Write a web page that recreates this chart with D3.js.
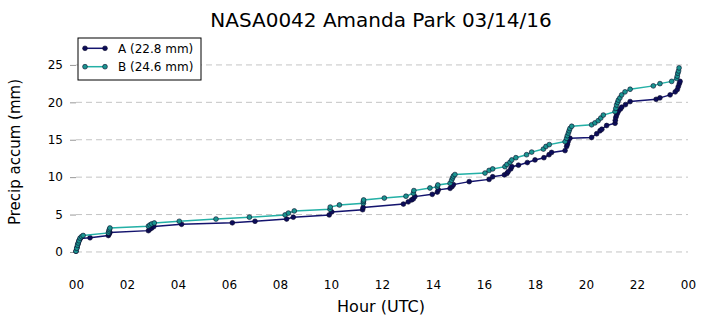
<!DOCTYPE html>
<html><head><meta charset="utf-8">
<script src="https://cdn.jsdelivr.net/npm/d3@7"></script>
<style>body{margin:0;background:#fff;} text{font-family:"DejaVu Sans",sans-serif;}</style>
</head><body><svg id="chart" width="706" height="326"></svg>
<script>
const title = "NASA0042 Amanda Park 03/14/16";
const seriesNames = ["A (22.8 mm)", "B (24.6 mm)"];
const hoursA = [0.0,0.04,0.08,0.12,0.17,0.55,1.27,1.3,1.33,2.84,2.9,2.97,3.05,4.14,6.13,7.02,8.26,8.52,9.93,10.03,11.24,11.26,12.84,13.03,13.16,13.23,13.29,13.97,14.17,14.21,14.67,14.75,14.8,15.42,16.2,16.34,16.8,16.9,16.95,17.05,17.09,17.35,17.7,18.0,18.35,18.55,18.65,19.18,19.24,19.27,19.3,19.37,20.22,20.42,20.55,20.62,20.81,21.14,21.15,21.17,21.2,21.24,21.27,21.35,21.4,21.55,21.73,22.75,22.9,23.3,23.5,23.58,23.62,23.66,23.69];
const valuesA = [0.1,0.6,1.1,1.5,1.8,1.9,2.2,2.4,2.6,2.85,3.05,3.2,3.4,3.7,3.9,4.1,4.4,4.65,4.95,5.35,5.65,5.95,6.4,6.7,6.95,7.1,7.4,7.7,8.0,8.3,8.5,8.75,9.0,9.4,9.7,10.05,10.3,10.5,10.75,11.1,11.4,11.6,11.95,12.3,12.6,13.0,13.3,13.55,14.1,14.4,14.75,15.2,15.3,15.8,16.2,16.4,16.9,17.2,17.6,18.0,18.3,18.6,18.85,19.1,19.35,19.7,20.1,20.4,20.6,21.0,21.4,21.7,22.1,22.5,22.8];
const hoursB = [0.0,0.03,0.06,0.09,0.12,0.16,0.22,0.28,1.27,1.29,1.31,1.33,2.84,2.9,2.97,3.07,4.05,5.49,6.8,8.2,8.33,8.56,9.96,9.97,10.33,11.27,11.27,11.28,12.09,12.94,13.23,13.25,13.88,14.17,14.19,14.67,14.73,14.77,14.8,14.86,16.04,16.2,16.34,16.82,16.9,17.02,17.09,17.25,17.67,17.87,18.33,18.43,18.56,19.18,19.24,19.27,19.31,19.34,19.37,19.44,20.22,20.35,20.48,20.58,20.68,21.14,21.17,21.2,21.24,21.27,21.33,21.4,21.53,21.73,22.64,22.9,23.36,23.56,23.58,23.6,23.63,23.65];
const valuesB = [0.1,0.5,0.9,1.2,1.5,1.85,2.05,2.2,2.55,2.8,3.0,3.2,3.45,3.6,3.75,3.87,4.1,4.4,4.65,4.95,5.2,5.48,5.7,6.0,6.28,6.5,6.75,6.95,7.2,7.45,7.85,8.2,8.55,8.7,8.95,9.18,9.6,9.9,10.15,10.35,10.55,10.9,11.1,11.4,11.7,12.0,12.3,12.6,13.0,13.35,13.75,14.1,14.35,14.75,15.2,15.55,15.9,16.2,16.5,16.8,17.0,17.25,17.55,17.9,18.3,18.76,19.2,19.65,20.0,20.3,20.6,21.0,21.4,21.75,22.2,22.5,22.8,23.2,23.5,23.9,24.2,24.6];
const xTicks = [0,2,4,6,8,10,12,14,16,18,20,22,24];
const yTicks = [0,5,10,15,20,25];
const lineColors = ["#14146e", "#24b0a6"];
const markerColors = ["#0c0c5a", "#1a9490"];

const svg = d3.select("#chart");
const L = 76, R = 688, T = 35, B = 274.4;
const x = d3.scaleLinear().domain([0,24]).range([L,R]);
const y = d3.scaleLinear().domain([-3,29]).range([B,T]);

svg.append("text").attr("x",381).attr("y",26.5).attr("text-anchor","middle")
  .attr("font-size",20).text(title);

// grid
svg.append("g").selectAll("line").data(yTicks).join("line")
  .attr("x1",L).attr("x2",R).attr("y1",d=>y(d)).attr("y2",d=>y(d))
  .attr("stroke","#c4c4c4").attr("stroke-width",1).attr("stroke-dasharray","6,4");

// y axis
const yAxis = d3.axisLeft(y).tickValues(yTicks).tickSize(6).tickPadding(7);
const gy = svg.append("g").attr("transform",`translate(${L},0)`).call(yAxis);
gy.select(".domain").remove();
gy.selectAll(".tick line").attr("stroke","#999");
gy.selectAll("text").attr("font-size",12).attr("font-family","DejaVu Sans").attr("fill","#000");

// x axis
const xAxis = d3.axisBottom(x).tickValues(xTicks).tickSize(0).tickPadding(6)
  .tickFormat(d => d3.format("02d")(d % 24));
const gx = svg.append("g").attr("transform",`translate(0,${B})`).call(xAxis);
gx.select(".domain").remove();
gx.selectAll("text").attr("font-size",12).attr("font-family","DejaVu Sans").attr("fill","#000");

svg.append("text").attr("x",381).attr("y",312).attr("text-anchor","middle")
  .attr("font-size",16).text("Hour (UTC)");
svg.append("text").attr("transform",`translate(20,152) rotate(-90)`).attr("text-anchor","middle")
  .attr("font-size",15).text("Precip accum (mm)");

const series = [
  hoursA.map((h,i)=>({h, v: valuesA[i]})),
  hoursB.map((h,i)=>({h, v: valuesB[i]}))
];
const line = d3.line().x(d=>x(d.h)).y(d=>y(d.v));
series.forEach((s,k)=>{
  const g = svg.append("g");
  g.append("path").datum(s).attr("d",line).attr("fill","none")
    .attr("stroke",lineColors[k]).attr("stroke-width",1.5);
  g.selectAll("circle").data(s).join("circle")
    .attr("cx",d=>x(d.h)).attr("cy",d=>y(d.v)).attr("r",2.4)
    .attr("fill",markerColors[k]).attr("stroke","#0a0a2a").attr("stroke-width",0.6);
});

// legend
const lg = svg.append("g").attr("transform","translate(78,38)");
lg.append("rect").attr("x",0).attr("y",0).attr("width",123).attr("height",42)
  .attr("fill","#fff").attr("stroke","#000").attr("stroke-width",1);
seriesNames.forEach((n,k)=>{
  const yy = 10.3 + k*18.4;
  lg.append("line").attr("x1",7).attr("x2",27).attr("y1",yy).attr("y2",yy)
    .attr("stroke",lineColors[k]).attr("stroke-width",1.5);
  [7,27].forEach(cx=>lg.append("circle").attr("cx",cx).attr("cy",yy).attr("r",2.4)
    .attr("fill",markerColors[k]).attr("stroke","#0a0a2a").attr("stroke-width",0.6));
  lg.append("text").attr("x",40).attr("y",yy+4.3).attr("font-size",12).text(n);
});
</script></body></html>
